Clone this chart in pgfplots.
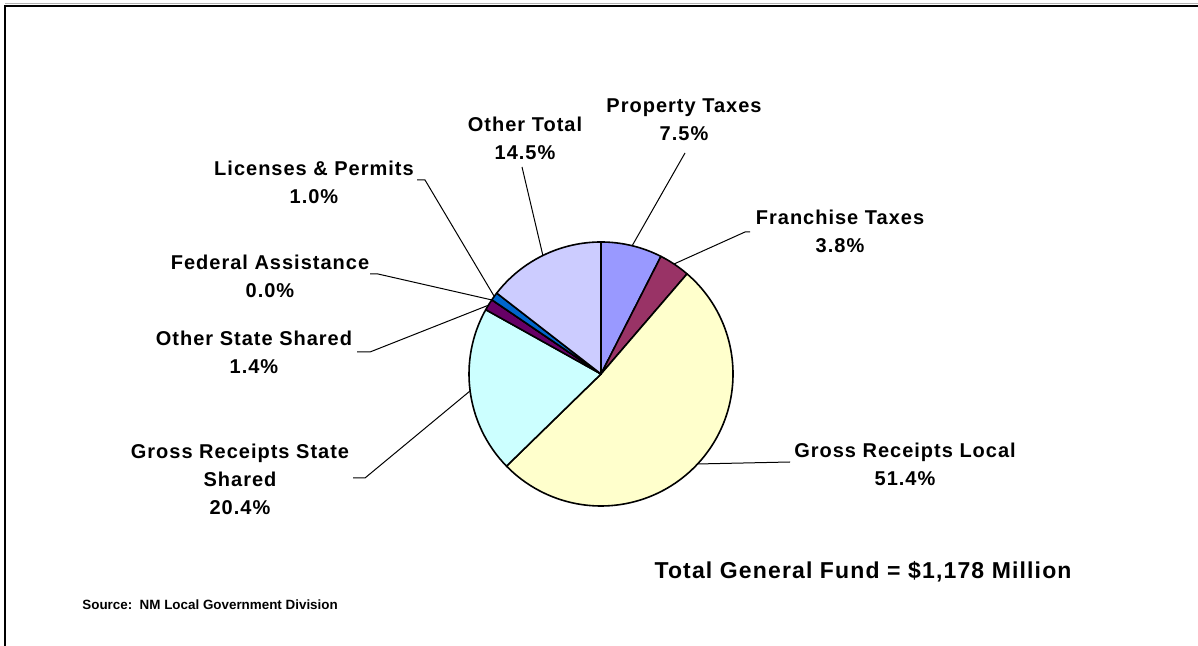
\documentclass[border=0pt]{standalone}
\usepackage{pgfplots}
\pgfplotsset{compat=1.18}
\usepackage{pgfplotstable}
\usepackage{fontspec}
\setmainfont{Liberation Sans}
\newfontfamily\labfont{Liberation Sans}[LetterSpace=5]
\newfontfamily\totfont{Liberation Sans}[LetterSpace=5]
\definecolor{c0}{HTML}{9999FF}
\definecolor{c1}{HTML}{993366}
\definecolor{c2}{HTML}{FFFFCC}
\definecolor{c3}{HTML}{CCFFFF}
\definecolor{c4}{HTML}{660066}
\definecolor{c5}{HTML}{FF8080}
\definecolor{c6}{HTML}{0066CC}
\definecolor{c7}{HTML}{CCCCFF}
\tikzset{lab/.style={align=center, inner sep=0pt, font=\labfont\bfseries\fontsize{10}{14}\selectfont}}
% shares of the general fund, clockwise from 12 o'clock
\pgfplotstableread{
pct
7.5
3.8
51.4
20.4
1.4
0.0
1.0
14.5
}\piedata
\begin{document}
\begin{tikzpicture}
\path[use as bounding box] (0,0) rectangle (599pt,323pt);
\gdef\cum{0}
\foreach \i in {0,...,7}{
  \pgfplotstablegetelem{\i}{pct}\of\piedata
  \pgfmathsetmacro\s{90-3.6*\cum}
  \pgfmathsetmacro\newcum{\cum+\pgfplotsretval}
  \pgfmathsetmacro\e{90-3.6*\newcum}
  \expandafter\xdef\csname sa\i\endcsname{\s}
  \expandafter\xdef\csname ea\i\endcsname{\e}
  \xdef\cum{\newcum}
}
\begin{axis}[
  at={(0,0)}, anchor=south west,
  width=599pt, height=323pt, scale only axis,
  xmin=0, xmax=1198, ymin=0, ymax=646,
  hide axis, clip=false,
]
\pgfplotsinvokeforeach{0,...,7}{
  \filldraw[fill=c#1, draw=black, line width=0.8pt, line join=round]
    (axis cs:601,272) -- ++(\csname sa#1\endcsname:66pt)
    arc[start angle=\csname sa#1\endcsname, end angle=\csname ea#1\endcsname, radius=66pt] -- cycle;
}
% leader lines
\draw[line width=0.5pt] (axis cs:685,493) -- (axis cs:632,400);
\draw[line width=0.5pt] (axis cs:750,414) -- (axis cs:745,414) -- (axis cs:674,382);
\draw[line width=0.5pt] (axis cs:790,184) -- (axis cs:697,182);
\draw[line width=0.5pt] (axis cs:353,168) -- (axis cs:365,168) -- (axis cs:470,255);
\draw[line width=0.5pt] (axis cs:357,294) -- (axis cs:370,294) -- (axis cs:489,341);
\draw[line width=0.5pt] (axis cs:370,372) -- (axis cs:378,372) -- (axis cs:492,346);
\draw[line width=0.5pt] (axis cs:417,466) -- (axis cs:425,466) -- (axis cs:494,350);
\draw[line width=0.5pt] (axis cs:522,479) -- (axis cs:543,390);
% labels
\node[lab] at (axis cs:684,526) {Property Taxes\\7.5\%};
\node[lab] at (axis cs:525,507.5) {Other Total\\14.5\%};
\node[lab] at (axis cs:314,464) {Licenses \& Permits\\1.0\%};
\node[lab] at (axis cs:270,370) {Federal Assistance\\0.0\%};
\node[lab] at (axis cs:254,294) {Other State Shared\\1.4\%};
\node[lab] at (axis cs:240,167) {Gross Receipts State\\Shared\\20.4\%};
\node[lab] at (axis cs:840,414.5) {Franchise Taxes\\3.8\%};
\node[lab] at (axis cs:905,181.5) {Gross Receipts Local\\51.4\%};
\node[inner sep=0pt, font=\totfont\bfseries\fontsize{11.5}{14}\selectfont] at (axis cs:863,74) {Total General Fund = \$1,178 Million};
\node[inner sep=0pt, anchor=west, font=\bfseries\fontsize{6.7}{8}\selectfont] at (axis cs:82,41) {Source:\ \ NM Local Government Division};
% frame
\draw[line width=0.5pt, gray!60] (axis cs:5,642) -- (axis cs:1210,642);
\draw[line width=1pt] (axis cs:5,-10) -- (axis cs:5,640) -- (axis cs:1210,640);
\end{axis}
\end{tikzpicture}
\end{document}
